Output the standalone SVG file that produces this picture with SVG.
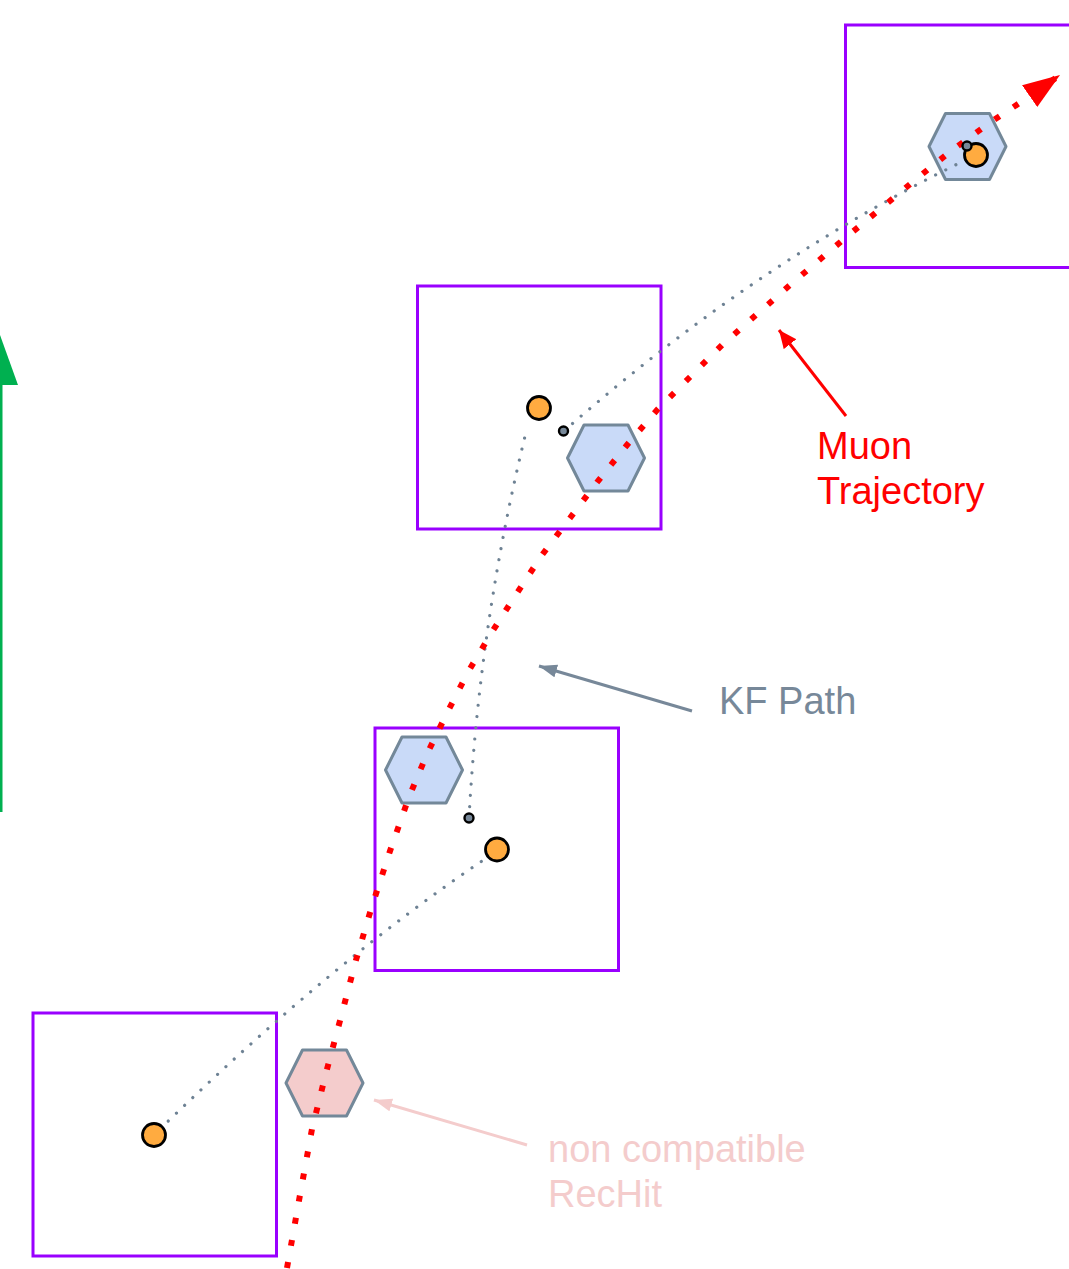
<svg xmlns="http://www.w3.org/2000/svg" width="1069" height="1269" viewBox="0 0 1069 1269">
<style>
.box{fill:none;stroke:#9900ff;stroke-width:3}
.hex{fill:#c9daf8;stroke:#738899;stroke-width:3;stroke-linejoin:round}
.hexbad{fill:#f4cccc;stroke:#738899;stroke-width:3;stroke-linejoin:round}
.hit{fill:#ffab40;stroke:#000;stroke-width:2.8}
.pred{fill:#778899;stroke:#000;stroke-width:2.4}
.kf{fill:none;stroke:#6e8294;stroke-width:3.2;stroke-linecap:round;stroke-dasharray:0.01 11.3}
.traj{fill:none;stroke:#ff0000;stroke-width:6;stroke-dasharray:6 16.5}
.lbl{font-family:"Liberation Sans",Arial,sans-serif;font-size:38px}
</style>
<defs>
<path id="hexshape" d="M-38.5,0 L-22,-33 L22,-33 L38.5,0 L22,33 L-22,33 Z"/>
<marker id="mRedBig" markerUnits="userSpaceOnUse" markerWidth="40" markerHeight="30" refX="37" refY="13.3" orient="auto" viewBox="0 0 40 30">
<path d="M0,0 L37,13.3 L0,26.6 Z" fill="#ff0000"/>
</marker>
<marker id="mRed" markerUnits="userSpaceOnUse" markerWidth="20" markerHeight="18" refX="18" refY="8" orient="auto" viewBox="0 0 20 18">
<path d="M0,0 L18,8 L0,16 Z" fill="#ff0000"/>
</marker>
<marker id="mGrey" markerUnits="userSpaceOnUse" markerWidth="20" markerHeight="16" refX="18" refY="6.5" orient="auto" viewBox="0 0 20 16">
<path d="M0,0 L18,6.5 L0,13 Z" fill="#778899"/>
</marker>
<marker id="mPink" markerUnits="userSpaceOnUse" markerWidth="20" markerHeight="16" refX="18" refY="6.5" orient="auto" viewBox="0 0 20 16">
<path d="M0,0 L18,6.5 L0,13 Z" fill="#f4cccc"/>
</marker>
</defs>

<g id="green-arrow">
<line x1="1" y1="812" x2="1" y2="383" stroke="#00b050" stroke-width="3"/>
<path d="M-18,385 L0,335 L18,385 Z" fill="#00b050"/>
</g>

<g id="chamber1"><rect class="box" x="845.5" y="25" width="244" height="242.5"/></g>
<g id="chamber2"><rect class="box" x="417.5" y="286" width="243.5" height="243"/></g>
<g id="chamber3"><rect class="box" x="375" y="728" width="243.5" height="242.5"/></g>
<g id="chamber4"><rect class="box" x="33" y="1013" width="243.5" height="243"/></g>

<g id="rechit1"><use href="#hexshape" class="hex" transform="translate(967.5,146.5)"/></g>
<g id="rechit2"><use href="#hexshape" class="hex" transform="translate(606,458)"/></g>
<g id="rechit3"><use href="#hexshape" class="hex" transform="translate(424,770)"/></g>
<g id="rechit4"><use href="#hexshape" class="hexbad" transform="translate(324.5,1083)"/></g>

<g id="connectors">
<path class="kf" d="M160,1129 Q335,959 488,857"/>
<path class="kf" d="M469,818 Q480,618 527,428"/>
<path class="kf" d="M564,431 Q762,257 976,155"/>
<polyline class="traj" marker-end="url(#mRedBig)" points="287,1268 300,1195 312,1129 326,1073 341,1017 356,960 372,906 390,851 409,797 427,754 447,713 468,672 492,632 517,593 542,555 570,518 598,481 627,445 657,410 690,377 722,345 756,315 790,285 844,239 879,210 915,180 951,151 988,124 1027,98 1060,75"/>
<line x1="846" y1="416" x2="779" y2="330" stroke="#ff0000" stroke-width="3" marker-end="url(#mRed)"/>
<line x1="692" y1="711" x2="539" y2="666" stroke="#778899" stroke-width="3" marker-end="url(#mGrey)"/>
<line x1="527" y1="1145" x2="374" y2="1100" stroke="#f4cccc" stroke-width="3" marker-end="url(#mPink)"/>
</g>

<g id="hits">
<circle class="hit" cx="976" cy="155" r="11.5"/>
<circle class="pred" cx="967" cy="146" r="4.5"/>
<circle class="hit" cx="539" cy="408" r="11.5"/>
<circle class="pred" cx="563.5" cy="431" r="4.5"/>
<circle class="hit" cx="497" cy="849.5" r="11.5"/>
<circle class="pred" cx="469" cy="818" r="4.5"/>
<circle class="hit" cx="154" cy="1135" r="11.5"/>
</g>

<g id="label-muon">
<text class="lbl" x="817" y="459" fill="#ff0000">Muon</text>
<text class="lbl" x="817" y="504" fill="#ff0000">Trajectory</text>
</g>
<g id="label-kf">
<text class="lbl" x="719" y="714" fill="#778899">KF Path</text>
</g>
<g id="label-noncompat">
<text class="lbl" x="548" y="1162" fill="#f4cccc">non compatible</text>
<text class="lbl" x="548" y="1207" fill="#f4cccc">RecHit</text>
</g>
</svg>
